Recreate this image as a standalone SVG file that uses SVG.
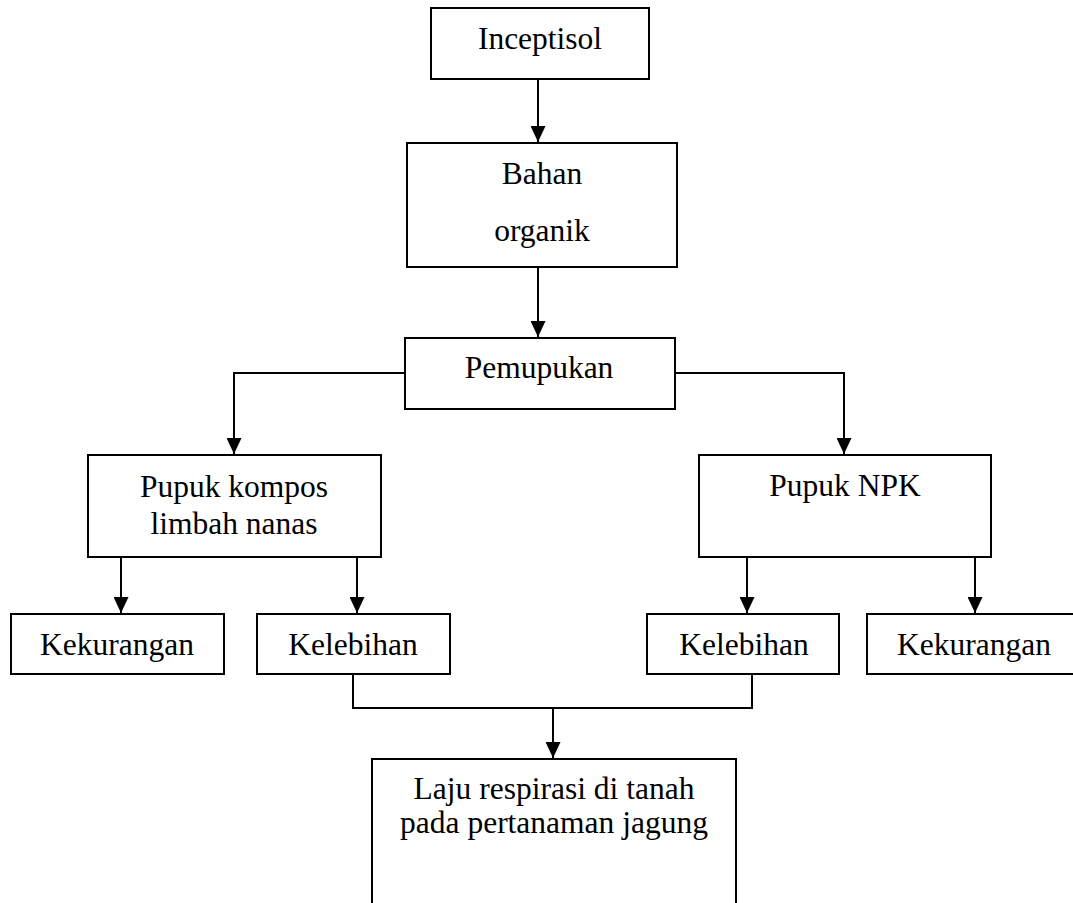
<svg xmlns="http://www.w3.org/2000/svg" width="1073" height="903" viewBox="0 0 1073 903">
<style>
.box{fill:#fff;stroke:#000;stroke-width:2}
.t{font-family:"Liberation Serif","Times New Roman",serif;font-size:31.5px;fill:#000;text-anchor:middle}
.c{fill:none;stroke:#000;stroke-width:2}
.a{marker-end:url(#arr)}
</style>
<defs>
<marker id="arr" viewBox="0 0 16 15" refX="16" refY="7.5" markerWidth="16" markerHeight="15" orient="auto" markerUnits="userSpaceOnUse">
<path d="M0,0 L16,7.5 L0,15 z" fill="#000"/>
</marker>
</defs>
<rect width="1073" height="903" fill="#fff"/>
<g id="connectors">
<path class="c a" d="M538,79 V142"/>
<path class="c a" d="M538,267 V337"/>
<path class="c a" d="M405,373 H234 V454"/>
<path class="c a" d="M675,373 H844 V454"/>
<path class="c a" d="M121,557 V613"/>
<path class="c a" d="M357,557 V613"/>
<path class="c a" d="M747,557 V613"/>
<path class="c a" d="M975,557 V613"/>
<path class="c" d="M353,674 V708 H752 V674"/>
<path class="c a" d="M553,708 V758"/>
</g>
<g id="inceptisol"><rect class="box" x="431" y="8" width="218" height="71"/><text class="t" x="540" y="49">Inceptisol</text></g>
<g id="bahan-organik"><rect class="box" x="407" y="143" width="270" height="124"/><text class="t" x="542" y="184">Bahan</text><text class="t" x="542" y="241">organik</text></g>
<g id="pemupukan"><rect class="box" x="405" y="338" width="270" height="71"/><text class="t" x="539" y="378">Pemupukan</text></g>
<g id="pupuk-kompos"><rect class="box" x="88" y="455" width="293" height="102"/><text class="t" x="234" y="497">Pupuk kompos</text><text class="t" x="234" y="534">limbah nanas</text></g>
<g id="pupuk-npk"><rect class="box" x="699" y="455" width="292" height="102"/><text class="t" x="845" y="496">Pupuk NPK</text></g>
<g id="kekurangan-kiri"><rect class="box" x="11" y="614" width="213" height="60"/><text class="t" x="117" y="655">Kekurangan</text></g>
<g id="kelebihan-kiri"><rect class="box" x="257" y="614" width="193" height="60"/><text class="t" x="353" y="655">Kelebihan</text></g>
<g id="kelebihan-kanan"><rect class="box" x="647" y="614" width="192" height="60"/><text class="t" x="744" y="655">Kelebihan</text></g>
<g id="kekurangan-kanan"><rect class="box" x="867" y="614" width="215" height="60"/><text class="t" x="974" y="655">Kekurangan</text></g>
<g id="laju-respirasi"><rect class="box" x="372" y="759" width="364" height="160"/><text class="t" x="554" y="799">Laju respirasi di tanah</text><text class="t" x="554" y="833">pada pertanaman jagung</text></g>
</svg>
